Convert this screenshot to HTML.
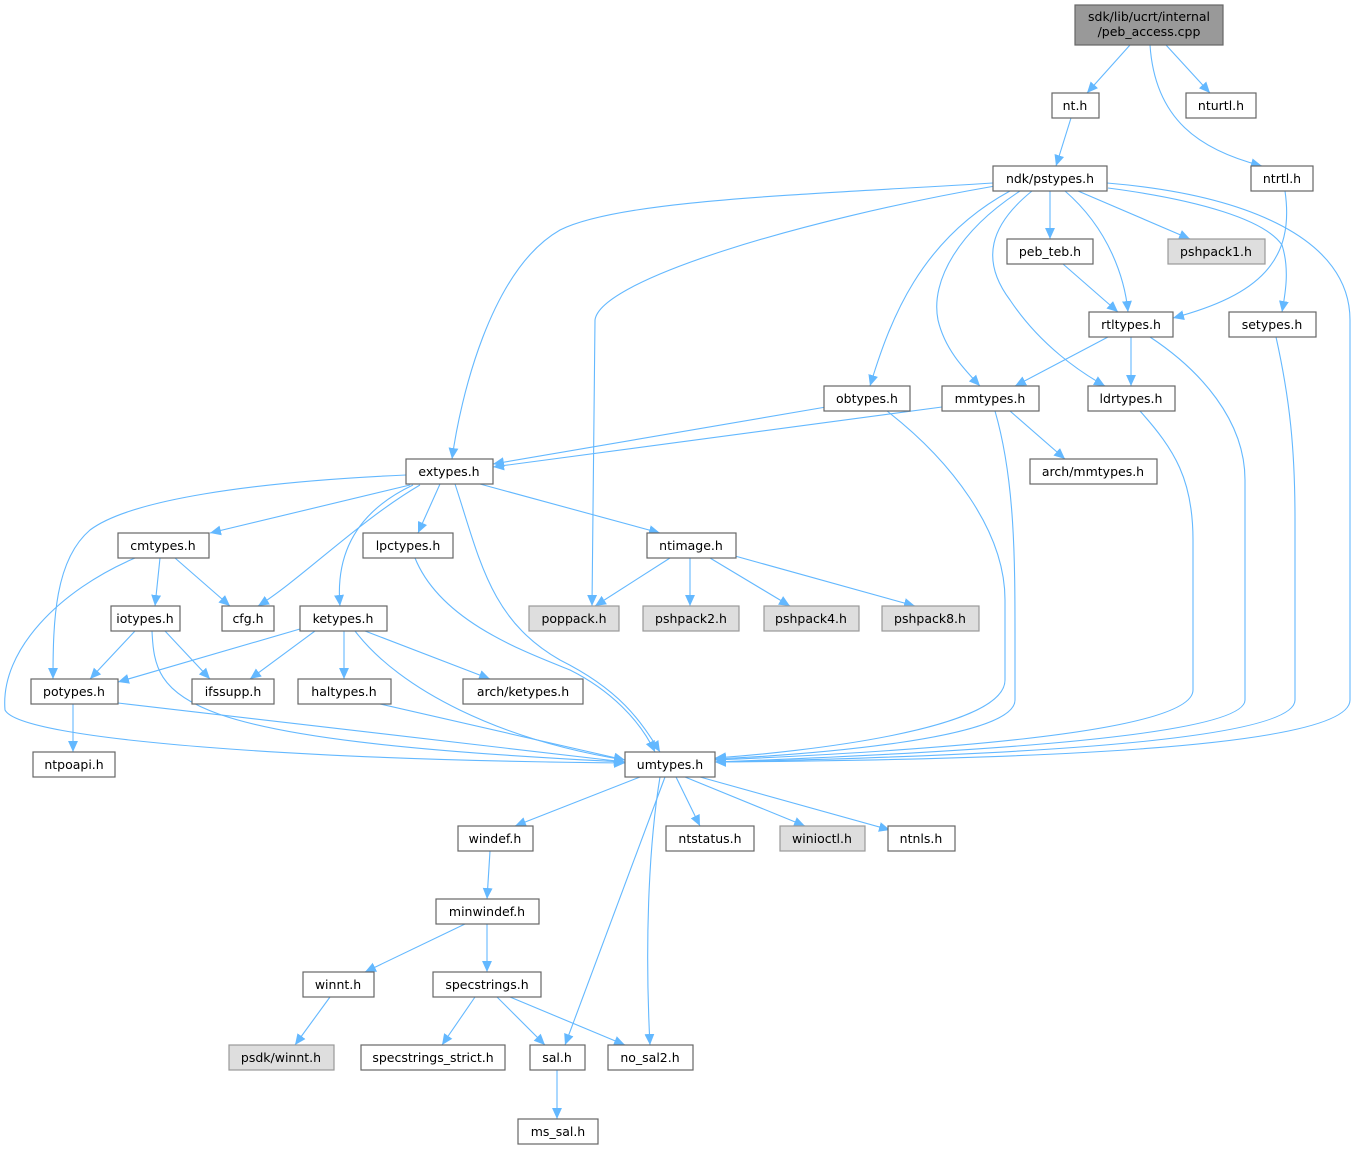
<!DOCTYPE html>
<html><head><meta charset="utf-8"><style>
html,body{margin:0;padding:0;background:#fff;}
svg{display:block;}
text{font-family:"DejaVu Sans","Liberation Sans",sans-serif;font-size:12.5px;fill:#000;text-anchor:middle;}
.n{fill:#fff;stroke:#666;stroke-width:1.2;}
.g{fill:#dedede;stroke:#999;stroke-width:1.2;}
.e{fill:none;stroke:#63b8ff;stroke-width:1.1;marker-end:url(#a);}
</style></head><body>
<svg width="1358" height="1151" viewBox="0 0 1358 1151" xmlns="http://www.w3.org/2000/svg">
<defs><marker id="a" viewBox="0 0 10 10" refX="10" refY="5" markerWidth="11" markerHeight="11" markerUnits="userSpaceOnUse" orient="auto"><path d="M0,0.5 L10,5 L0,9.5 z" fill="#63b8ff"/></marker></defs>
<g>
<path class="e" d="M1130,45 L1087,93"/>
<path class="e" d="M1166,45 L1210,93"/>
<path class="e" d="M1150,45 C1155,120 1200,150 1262,166"/>
<path class="e" d="M1071,118 L1056,166"/>
<path class="e" d="M1050,191 L1050,239"/>
<path class="e" d="M1078,191 L1190,239"/>
<path class="e" d="M1065,191 C1110,230 1125,280 1128,312"/>
<path class="e" d="M1108,188 C1200,200 1265,220 1282,245 C1290,270 1285,295 1282,312"/>
<path class="e" d="M1107,183 C1250,195 1350,240 1350,320 L1350,700 C1350,750 1000,760 715,762"/>
<path class="e" d="M1032,191 C990,225 980,260 1010,300 C1040,345 1080,372 1105,386"/>
<path class="e" d="M1020,191 C960,230 930,280 938,320 C945,350 965,370 980,386"/>
<path class="e" d="M1010,191 C920,240 890,320 870,386"/>
<path class="e" d="M995,186 C800,220 600,280 595,320 L592,606"/>
<path class="e" d="M993,183 C800,195 620,200 560,230 C490,270 460,400 452,459"/>
<path class="e" d="M1063,264 L1118,312"/>
<path class="e" d="M1285,191 C1295,260 1260,295 1173,318"/>
<path class="e" d="M1108,337 L1015,386"/>
<path class="e" d="M1131,337 L1131,386"/>
<path class="e" d="M1150,337 C1200,370 1245,420 1245,480 L1245,700 C1245,740 900,755 715,762"/>
<path class="e" d="M1276,337 C1290,400 1295,450 1295,520 L1295,700 C1295,745 950,757 715,762"/>
<path class="e" d="M1140,411 C1175,450 1193,480 1193,540 L1193,690 C1193,735 900,752 715,760"/>
<path class="e" d="M826,407 L493,464"/>
<path class="e" d="M887,411 C950,460 1005,530 1005,600 L1005,680 C1005,730 800,752 715,758"/>
<path class="e" d="M942,407 L493,467"/>
<path class="e" d="M1010,411 L1065,459"/>
<path class="e" d="M995,411 C1015,480 1015,560 1015,640 L1015,700 C1015,740 800,755 715,759"/>
<path class="e" d="M406,475 C250,482 130,500 90,530 C55,560 53,620 53,679"/>
<path class="e" d="M410,485 L210,533"/>
<path class="e" d="M420,485 C360,520 300,580 258,606"/>
<path class="e" d="M413,485 C360,510 335,550 340,606"/>
<path class="e" d="M440,484 L418,533"/>
<path class="e" d="M480,484 L660,533"/>
<path class="e" d="M455,484 C480,560 490,620 560,660 C620,690 640,720 660,752"/>
<path class="e" d="M175,558 L230,606"/>
<path class="e" d="M160,558 L155,606"/>
<path class="e" d="M135,558 C60,590 0,650 5,710 C20,740 300,760 625,763"/>
<path class="e" d="M415,558 C440,620 520,650 570,670 C610,690 640,720 655,752"/>
<path class="e" d="M670,558 L595,606"/>
<path class="e" d="M690,558 L690,606"/>
<path class="e" d="M710,558 L790,606"/>
<path class="e" d="M735,556 L915,606"/>
<path class="e" d="M135,631 L90,679"/>
<path class="e" d="M165,631 L210,679"/>
<path class="e" d="M152,631 C155,700 170,740 625,762"/>
<path class="e" d="M300,629 L118,682"/>
<path class="e" d="M315,631 L250,679"/>
<path class="e" d="M344,631 L344,679"/>
<path class="e" d="M365,631 L490,679"/>
<path class="e" d="M355,631 C400,690 500,740 625,760"/>
<path class="e" d="M73,704 L73,752"/>
<path class="e" d="M118,703 L625,762"/>
<path class="e" d="M380,704 L625,760"/>
<path class="e" d="M640,777 L515,826"/>
<path class="e" d="M676,777 L700,826"/>
<path class="e" d="M685,777 L805,826"/>
<path class="e" d="M700,777 L890,830"/>
<path class="e" d="M665,777 L565,1045"/>
<path class="e" d="M660,777 C648,850 645,950 650,1045"/>
<path class="e" d="M490,851 L487,899"/>
<path class="e" d="M465,924 L365,972"/>
<path class="e" d="M487,924 L487,972"/>
<path class="e" d="M330,997 L295,1045"/>
<path class="e" d="M475,997 L442,1045"/>
<path class="e" d="M497,997 L545,1045"/>
<path class="e" d="M510,997 L625,1045"/>
<path class="e" d="M557,1070 L557,1119"/>
</g>
<g>
<rect x="1075" y="5" width="148" height="40" fill="#999" stroke="#666" stroke-width="1.2"/>
<text x="1149" y="21">sdk/lib/ucrt/internal</text><text x="1149" y="36">/peb_access.cpp</text>
<rect class="n" x="1052" y="93" width="47" height="25"/><text x="1075" y="110">nt.h</text>
<rect class="n" x="1186" y="93" width="70" height="25"/><text x="1221" y="110">nturtl.h</text>
<rect class="n" x="993" y="166" width="114" height="25"/><text x="1050" y="183">ndk/pstypes.h</text>
<rect class="n" x="1251" y="166" width="62" height="25"/><text x="1282" y="183">ntrtl.h</text>
<rect class="n" x="1007" y="239" width="86" height="25"/><text x="1050" y="256">peb_teb.h</text>
<rect class="g" x="1168" y="239" width="97" height="25"/><text x="1216" y="256">pshpack1.h</text>
<rect class="n" x="1089" y="312" width="84" height="25"/><text x="1131" y="329">rtltypes.h</text>
<rect class="n" x="1229" y="312" width="87" height="25"/><text x="1272" y="329">setypes.h</text>
<rect class="n" x="824" y="386" width="86" height="25"/><text x="867" y="403">obtypes.h</text>
<rect class="n" x="942" y="386" width="97" height="25"/><text x="990" y="403">mmtypes.h</text>
<rect class="n" x="1088" y="386" width="87" height="25"/><text x="1131" y="403">ldrtypes.h</text>
<rect class="n" x="406" y="459" width="87" height="25"/><text x="449" y="476">extypes.h</text>
<rect class="n" x="1030" y="459" width="127" height="25"/><text x="1093" y="476">arch/mmtypes.h</text>
<rect class="n" x="118" y="533" width="91" height="25"/><text x="163" y="550">cmtypes.h</text>
<rect class="n" x="363" y="533" width="90" height="25"/><text x="408" y="550">lpctypes.h</text>
<rect class="n" x="647" y="533" width="89" height="25"/><text x="691" y="550">ntimage.h</text>
<rect class="n" x="111" y="606" width="69" height="25"/><text x="145" y="623">iotypes.h</text>
<rect class="n" x="222" y="606" width="52" height="25"/><text x="248" y="623">cfg.h</text>
<rect class="n" x="300" y="606" width="87" height="25"/><text x="343" y="623">ketypes.h</text>
<rect class="g" x="529" y="606" width="90" height="25"/><text x="574" y="623">poppack.h</text>
<rect class="g" x="643" y="606" width="96" height="25"/><text x="691" y="623">pshpack2.h</text>
<rect class="g" x="764" y="606" width="95" height="25"/><text x="811" y="623">pshpack4.h</text>
<rect class="g" x="882" y="606" width="97" height="25"/><text x="930" y="623">pshpack8.h</text>
<rect class="n" x="31" y="679" width="87" height="25"/><text x="74" y="696">potypes.h</text>
<rect class="n" x="192" y="679" width="82" height="25"/><text x="233" y="696">ifssupp.h</text>
<rect class="n" x="298" y="679" width="93" height="25"/><text x="344" y="696">haltypes.h</text>
<rect class="n" x="463" y="679" width="120" height="25"/><text x="523" y="696">arch/ketypes.h</text>
<rect class="n" x="33" y="752" width="82" height="25"/><text x="74" y="769">ntpoapi.h</text>
<rect class="n" x="625" y="752" width="90" height="25"/><text x="670" y="769">umtypes.h</text>
<rect class="n" x="458" y="826" width="75" height="25"/><text x="495" y="843">windef.h</text>
<rect class="n" x="666" y="826" width="88" height="25"/><text x="710" y="843">ntstatus.h</text>
<rect class="g" x="780" y="826" width="85" height="25"/><text x="822" y="843">winioctl.h</text>
<rect class="n" x="888" y="826" width="67" height="25"/><text x="921" y="843">ntnls.h</text>
<rect class="n" x="436" y="899" width="103" height="25"/><text x="487" y="916">minwindef.h</text>
<rect class="n" x="303" y="972" width="71" height="25"/><text x="338" y="989">winnt.h</text>
<rect class="n" x="433" y="972" width="108" height="25"/><text x="487" y="989">specstrings.h</text>
<rect class="g" x="229" y="1045" width="105" height="25"/><text x="281" y="1062">psdk/winnt.h</text>
<rect class="n" x="361" y="1045" width="144" height="25"/><text x="433" y="1062">specstrings_strict.h</text>
<rect class="n" x="530" y="1045" width="55" height="25"/><text x="557" y="1062">sal.h</text>
<rect class="n" x="608" y="1045" width="85" height="25"/><text x="650" y="1062">no_sal2.h</text>
<rect class="n" x="518" y="1119" width="80" height="25"/><text x="558" y="1136">ms_sal.h</text>
</g>
</svg>
</body></html>
